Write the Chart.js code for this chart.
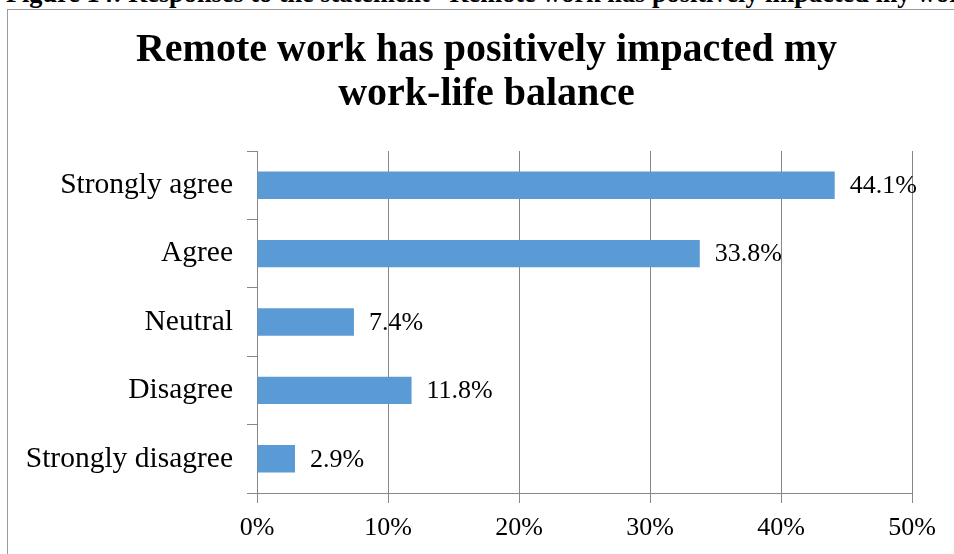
<!DOCTYPE html>
<html>
<head>
<meta charset="utf-8">
<script src="https://cdn.jsdelivr.net/npm/chart.js@4.4.1/dist/chart.umd.min.js"></script>
<style>
  html, body { margin: 0; padding: 0; background: #fff; overflow: hidden; }
  body { width: 954px; height: 554px; position: relative; }
  .caption {
    position: absolute; left: 6px; top: -19px;
    font: bold 26.3px "Liberation Serif", serif; line-height: 1;
    white-space: nowrap; color: #000;
  }
  .frame {
    position: absolute; left: 7px; top: 9px; width: 1000px; height: 600px;
    border: 1.5px solid #9a9a9a; box-sizing: border-box;
  }
  #chart { position: absolute; left: 0; top: 0; }
</style>
</head>
<body>
<div class="caption">Figure 14: Responses to the statement “Remote work has positively impacted my work-life balance”</div>
<div class="frame"></div>
<canvas id="chart" width="954" height="554"></canvas>
<script>
const categories = ["Strongly agree", "Agree", "Neutral", "Disagree", "Strongly disagree"];
const percentages = [44.1, 33.8, 7.4, 11.8, 2.9];
const xTicks = [0, 10, 20, 30, 40, 50];
const titleLines = ["Remote work has positively impacted my", "work-life balance"];

const serif = "'Liberation Serif', 'Times New Roman', serif";
const gridGray = "#878787";

// value labels to the right of each bar
const barValueLabels = {
  id: "barValueLabels",
  afterDatasetsDraw(chart) {
    const ctx = chart.ctx;
    const meta = chart.getDatasetMeta(0);
    ctx.save();
    ctx.font = "26px " + serif;
    ctx.fillStyle = "#000";
    ctx.textAlign = "left";
    ctx.textBaseline = "middle";
    meta.data.forEach((bar, i) => {
      ctx.fillText(percentages[i].toFixed(1) + "%", bar.x + 15, bar.y + 1);
    });
    ctx.restore();
  }
};

// centre the title on the framed box rather than on the whole canvas
const titleShift = {
  id: "titleShift",
  afterLayout(chart) {
    if (chart.titleBlock) chart.titleBlock.left = 61;
  }
};

new Chart(document.getElementById("chart"), {
  type: "bar",
  data: {
    labels: categories,
    datasets: [{
      data: percentages,
      backgroundColor: "#5B9BD5",
      borderWidth: 0,
      barPercentage: 0.4,
      categoryPercentage: 1
    }]
  },
  options: {
    indexAxis: "y",
    responsive: false,
    animation: false,
    layout: { padding: { left: 0, right: 42, top: 0, bottom: 0 } },
    plugins: {
      legend: { display: false },
      tooltip: { enabled: false },
      title: {
        display: true,
        text: titleLines,
        color: "#000",
        font: { family: serif, size: 40, weight: "bold", lineHeight: 1.1 },
        padding: { top: 29, bottom: 34 }
      }
    },
    scales: {
      x: {
        min: 0,
        max: 50,
        afterFit(scale) { scale.height = 61; },
        afterBuildTicks(scale) { scale.ticks = xTicks.map(v => ({ value: v })); },
        ticks: {
          color: "#000",
          padding: 10,
          font: { family: serif, size: 26 },
          callback: v => v + "%"
        },
        grid: { color: gridGray, lineWidth: 1, drawTicks: true, tickLength: 10 },
        border: { display: true, color: gridGray, width: 1 }
      },
      y: {
        afterFit(scale) { scale.width = 257; },
        ticks: {
          color: "#000",
          padding: 14,
          font: { family: serif, size: 29.5 }
        },
        grid: { offset: true, drawOnChartArea: false, drawTicks: true, tickLength: 10, color: gridGray },
        border: { display: true, color: gridGray, width: 1 }
      }
    }
  },
  plugins: [barValueLabels, titleShift]
});
</script>
</body>
</html>
